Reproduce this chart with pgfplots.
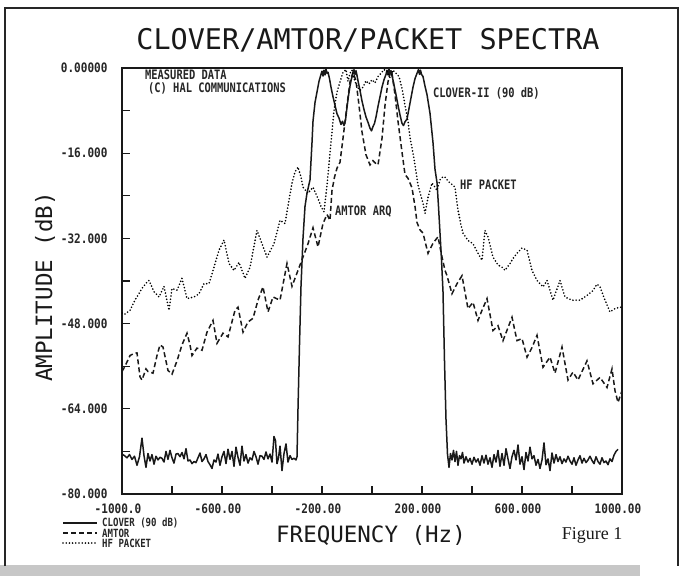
\documentclass[border=0pt]{standalone}
\usepackage{pgfplots}
\pgfplotsset{compat=1.18}
\usepackage{pgfplotstable}
\usepackage{fontspec}
\newfontfamily\plotfont{DejaVu Sans Mono}
\newfontfamily\condfont[FakeStretch=0.8]{DejaVu Sans Mono}
\newfontfamily\tickfont[FakeStretch=0.85]{DejaVu Sans Mono}
\newfontfamily\figfont{Liberation Serif}
\newcommand\lgf{\condfont\bfseries\fontsize{11.3}{12}\selectfont}
\newcommand\anf{\condfont\bfseries\fontsize{13}{14}\selectfont}

\pgfplotstableread{
f db
-1000 -72.5
-990 -72.8
-980 -73.2
-970 -72.6
-960 -73.5
-950 -72.9
-940 -74.6
-930 -73.0
-920 -69.5
-912 -72.8
-904 -75.0
-896 -72.4
-888 -73.8
-880 -72.6
-872 -74.4
-864 -72.9
-856 -73.6
-848 -73.1
-840 -73.3
-832 -74.0
-824 -72.0
-816 -73.5
-808 -71.8
-800 -73.2
-792 -74.2
-784 -72.5
-776 -72.4
-768 -73.0
-760 -72.2
-752 -73.4
-744 -71.5
-736 -73.8
-728 -73.6
-720 -74.3
-712 -73.9
-704 -74.1
-696 -73.2
-688 -72.3
-680 -73.9
-672 -73.4
-664 -72.6
-656 -73.9
-648 -74.5
-640 -75.2
-632 -73.6
-624 -74.0
-616 -72.5
-608 -74.6
-600 -73.0
-592 -72.0
-584 -74.3
-576 -71.6
-568 -73.5
-560 -72.0
-552 -74.8
-544 -71.2
-536 -73.1
-528 -74.6
-520 -71.0
-512 -73.8
-504 -72.6
-496 -74.2
-488 -73.2
-480 -73.6
-472 -72.0
-464 -73.0
-456 -74.4
-448 -72.8
-440 -72.9
-432 -73.5
-424 -72.1
-416 -73.4
-408 -72.5
-400 -74.0
-392 -69.2
-386 -70.0
-380 -74.3
-374 -73.2
-368 -71.0
-360 -75.6
-352 -72.4
-344 -70.6
-336 -74.0
-328 -72.8
-320 -73.5
-312 -73.3
-304 -73.6
-300 -73.0
-296 -64
-290 -52
-284 -41
-276 -32
-268 -26
-260 -23.5
-248 -21
-240 -14
-236 -10
-228 -6.5
-220 -4.5
-212 -2.5
-204 -1.2
-200 -0.6
-196 -1.5
-192 -0.4
-188 -1.3
-184 -0.2
-180 -1.0
-176 -0.8
-170 -2.0
-164 -3.6
-156 -5.4
-148 -7.0
-140 -8.6
-132 -9.4
-124 -10.6
-118 -10.0
-112 -10.8
-106 -9.8
-100 -7.4
-94 -5.2
-88 -3.4
-82 -2.0
-76 -1.0
-72 -0.3
-68 -1.2
-64 -0.5
-60 -1.4
-56 -2.4
-48 -4.2
-40 -6.2
-32 -7.8
-24 -9.2
-16 -10.2
-8 -11.3
-2 -11.8
4 -11.0
10 -10.4
16 -9.2
24 -7.2
32 -5.4
40 -3.6
48 -2.2
56 -1.2
60 -0.4
64 -1.3
68 -0.2
72 -1.0
76 -0.5
82 -1.8
88 -3.2
96 -5.0
104 -7.0
112 -8.8
120 -10.4
126 -10.8
132 -10.1
140 -9.6
148 -7.6
156 -5.6
164 -3.6
172 -2.0
180 -1.0
186 -0.3
190 -1.2
194 -0.4
198 -1.2
204 -1.6
212 -3.4
220 -5.0
232 -8.5
244 -14
252 -19
260 -21.5
266 -26
272 -31
278 -36
284 -42
290 -55
296 -66
302 -72.5
308 -75.0
314 -72.4
320 -73.6
326 -71.8
332 -73.9
338 -72.0
344 -74.6
350 -72.8
356 -73.4
362 -72.2
368 -74.2
376 -73.0
384 -74.0
392 -73.3
400 -74.4
408 -73.1
416 -74.0
424 -73.4
432 -74.6
440 -72.8
448 -74.2
456 -72.7
464 -74.4
472 -73.2
480 -75.0
488 -72.6
496 -74.0
504 -71.8
512 -74.8
520 -72.4
528 -74.6
536 -71.5
544 -73.4
552 -75.2
560 -73.0
568 -71.8
576 -73.6
584 -70.8
592 -74.4
600 -73.0
608 -75.4
616 -72.2
624 -73.8
632 -71.2
640 -73.4
648 -72.8
656 -74.6
664 -73.5
672 -75.2
680 -73.6
688 -70.4
696 -74.5
704 -73.4
712 -75.6
720 -72.3
728 -74.2
736 -72.6
744 -73.9
752 -73.0
760 -74.3
768 -73.4
776 -74.0
784 -72.9
792 -73.8
800 -74.4
808 -73.2
816 -74.6
824 -73.6
832 -72.8
840 -74.2
848 -73.3
856 -74.1
864 -73.6
872 -72.9
880 -73.7
888 -74.3
896 -73.0
904 -73.9
912 -74.4
920 -73.2
928 -74.1
936 -73.8
944 -74.5
952 -73.4
960 -73.9
968 -72.7
976 -72.0
984 -71.6
}\clover

\pgfplotstableread{
f db
-1000 -57
-988 -56
-968 -54
-952 -53.6
-940 -53.5
-928 -58
-920 -58.6
-904 -56.5
-896 -57
-876 -57.3
-860 -54
-848 -52
-836 -52.4
-816 -56.8
-800 -57.5
-780 -55
-760 -52
-740 -49.8
-728 -52
-720 -54
-700 -52.6
-680 -53
-660 -49.6
-636 -47.4
-620 -51.7
-596 -49.8
-576 -50.5
-548 -45.5
-536 -44.9
-516 -49.6
-496 -47.7
-476 -47
-456 -43.6
-436 -41.1
-416 -45.8
-396 -43
-368 -43.6
-340 -36.7
-320 -41
-296 -38
-276 -35.5
-256 -33
-236 -30
-216 -33.6
-196 -29.2
-180 -27.5
-168 -28.6
-160 -23
-150 -20.5
-140 -18.8
-128 -17.7
-116 -13.2
-100 -7
-88 -2.6
-76 -0.8
-70 -1.6
-64 -2.4
-52 -7
-40 -12
-24 -16.3
-8 -18.2
4 -17.4
12 -17.8
24 -18.2
40 -13.2
52 -7
64 -2.6
74 -0.6
80 -1.0
92 -5
104 -10
120 -15.8
132 -20
144 -20.7
160 -22.5
172 -26
180 -29
192 -30.4
204 -31
224 -34.8
244 -32.9
264 -31.7
280 -35.5
292 -38
300 -39
320 -42.4
340 -40.5
360 -39
384 -45.2
404 -44
424 -47.4
440 -45.5
460 -43.3
484 -49.3
504 -48.4
524 -51.2
560 -46.8
580 -51.2
600 -50.8
620 -54.3
640 -52.5
660 -50.2
684 -56.2
712 -54.3
732 -57.3
760 -52.4
784 -58.6
804 -57.1
824 -58.6
860 -55
884 -59.3
912 -58.1
940 -60
960 -56.5
972 -60.6
984 -62.8
1000 -60.6
}\amtor

\pgfplotstableread{
f db
-1000 -46
-988 -46.2
-968 -45.5
-948 -43.6
-920 -41.4
-904 -40.4
-892 -39.9
-872 -42
-852 -43
-832 -41
-812 -45.5
-800 -41.4
-780 -41.7
-760 -39.5
-740 -43.3
-712 -43
-692 -42.4
-672 -40.5
-652 -40.5
-632 -37.4
-612 -34.2
-592 -32.3
-572 -36.7
-552 -38
-532 -36.5
-508 -39.5
-488 -37.4
-460 -30.5
-440 -33
-420 -35.5
-392 -33
-368 -28.6
-348 -29.2
-332 -24.8
-320 -21.6
-308 -19.5
-296 -18.6
-284 -20.5
-276 -22.4
-256 -23.5
-236 -22.4
-216 -24.5
-204 -26
-192 -27
-180 -22
-168 -16
-160 -12
-152 -8
-140 -4.5
-128 -2.6
-116 -0.8
-104 -0.3
-96 -2.5
-88 -1.0
-80 -0.4
-72 -2.0
-60 -3.5
-48 -4.2
-36 -3.6
-24 -2.4
-12 -3.0
0 -2.2
12 -2.8
24 -1.6
36 -1.0
48 -0.3
60 -0.6
72 -1.8
84 -0.4
96 -1.0
108 -1.6
120 -3.8
132 -7
144 -10
152 -13
164 -16
172 -18.2
184 -22
196 -24
204 -25.4
212 -27.3
224 -24.3
240 -21.6
252 -22.4
260 -23
272 -21
284 -20.4
292 -20.5
304 -21.2
312 -21.6
324 -22
332 -22.4
344 -26.7
356 -29.5
364 -31
384 -32.4
404 -33
424 -34.8
440 -36.1
452 -30.5
464 -31.7
484 -35.5
504 -37
520 -37.4
532 -38
552 -36.7
568 -35.5
580 -34.8
600 -33.8
620 -34.2
640 -38
660 -39.9
684 -41.1
700 -39.9
724 -43.6
752 -39.9
772 -43
800 -43.6
832 -43.6
860 -42.7
884 -41.8
900 -40.6
912 -41.1
932 -43.6
952 -45.8
972 -45.2
992 -44.9
1000 -45
}\packet

\begin{document}
\begin{tikzpicture}
\useasboundingbox (0pt,0pt) rectangle (683pt,-576pt);
\fill[white] (0pt,0pt) rectangle (683pt,-576pt);
% outer frame and bottom shading
\fill[black!22] (0pt,-565pt) rectangle (640pt,-576pt);
\draw[black!85, line width=1.6pt] (5pt,-566pt) -- (5pt,-8pt) -- (678pt,-8pt) -- (678pt,-566pt);
\begin{axis}[
  at={(122pt,-494pt)}, anchor=south west,
  scale only axis, width=500pt, height=426pt,
  xmin=-1000, xmax=1000, ymin=-80, ymax=0,
  axis line style={black!90, line width=1.3pt},
  tick align=inside, xtick pos=bottom, ytick pos=left,
  major tick length=8pt, minor tick length=8pt,
  every tick/.style={black!90, line width=1.1pt},
  xtick={-1000,-600,-200,200,600,1000},
  xticklabels={-1000.0,-600.00,-200.00,200.000,600.000,1000.00},
  minor xtick={-800,-400,0,400,800},
  ytick={0,-16,-32,-48,-64,-80},
  yticklabels={0.00000,-16.000,-32.000,-48.000,-64.000,-80.000},
  minor ytick={-8,-24,-40,-56,-72},
  ticklabel style={font=\tickfont\bfseries\fontsize{13}{14}\selectfont, black!85},
  yticklabel style={xshift=-11pt},
  xticklabel style={yshift=-6pt, xshift=-4pt},
  title={CLOVER/AMTOR/PACKET SPECTRA},
  title style={font=\plotfont\fontsize{28.5}{30}\selectfont, at={(rel axis cs:0.492,1.052)}, anchor=center, black!90},
  xlabel={FREQUENCY (Hz)},
  xlabel style={font=\plotfont\fontsize{22.5}{24}\selectfont, at={(rel axis cs:0.498,-0.097)}, anchor=center, black!90},
  ylabel={AMPLITUDE (dB)},
  ylabel style={font=\plotfont\fontsize{22.5}{24}\selectfont, at={(rel axis cs:-0.154,0.486)}, anchor=center, rotate=0, black!90},
]
\addplot[black!90, line width=1.5pt, line join=round] table[x=f,y=db] {\clover};
\addplot[black!90, line width=1.5pt, dash pattern=on 5pt off 3pt] table[x=f,y=db] {\amtor};
\addplot[black, line width=1.8pt, line cap=round, dash pattern=on 0pt off 3.2pt] table[x=f,y=db] {\packet};
\node[anchor=west, inner sep=0pt, font=\anf, black!85] at (axis cs:-908,-1.3) {MEASURED DATA};
\node[anchor=west, inner sep=0pt, font=\anf, black!85] at (axis cs:-896,-3.8) {(C) HAL COMMUNICATIONS};
\node[anchor=west, inner sep=0pt, font=\anf, black!85] at (axis cs:244,-4.7) {CLOVER-II (90 dB)};
\node[anchor=west, inner sep=0pt, font=\anf, black!85] at (axis cs:352,-22) {HF PACKET};
\node[anchor=west, inner sep=0pt, font=\anf, black!85] at (axis cs:-148,-26.9) {AMTOR ARQ};
\end{axis}
% key (legend) below the axis
\draw[black!90, line width=1.5pt] (63pt,-523pt) -- (97pt,-523pt);
\draw[black!90, line width=1.5pt, dash pattern=on 5pt off 3pt] (63pt,-533pt) -- (97pt,-533pt);
\draw[black, line width=1.8pt, line cap=round, dash pattern=on 0pt off 3.2pt] (63pt,-543pt) -- (97pt,-543pt);
\node[anchor=west, inner sep=0pt, font=\lgf, black!85] at (102pt,-523pt) {CLOVER (90 dB)};
\node[anchor=west, inner sep=0pt, font=\lgf, black!85] at (102pt,-533pt) {AMTOR};
\node[anchor=west, inner sep=0pt, font=\lgf, black!85] at (102pt,-543pt) {HF PACKET};
\node[anchor=center, font=\figfont\fontsize{18}{20}\selectfont, black!90] at (592pt,-535pt) {Figure 1};
\end{tikzpicture}
\end{document}
